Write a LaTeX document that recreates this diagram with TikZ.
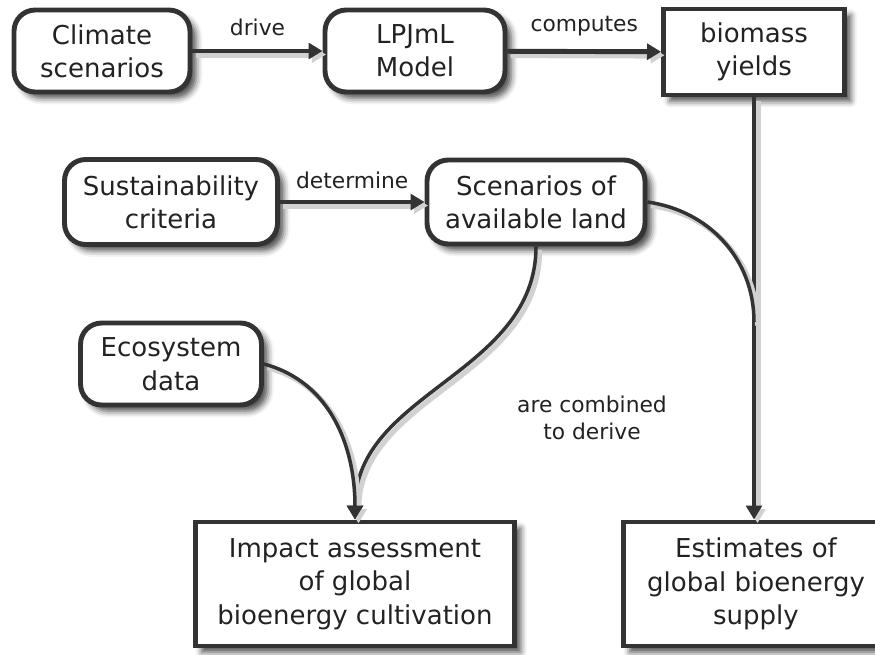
\documentclass[tikz,border=0pt]{standalone}
\usepackage{fontspec}
\setmainfont{DejaVu Sans}
\usetikzlibrary{arrows.meta,shadows.blur}
\definecolor{ink}{HTML}{333333}
\definecolor{txt}{HTML}{222222}
\tikzset{
  boxshadow/.style={blur shadow={shadow xshift=3.5pt, shadow yshift=-3.5pt, shadow blur radius=3.5pt, shadow opacity=70}},
  roundbox/.style={draw=ink, line width=2.8pt, fill=white, rounded corners=12pt, align=center, text=txt,
    font=\fontsize{14.8}{19}\selectfont, boxshadow},
  sharpbox/.style={roundbox, rounded corners=0pt},
  lbl/.style={text=txt, align=center, font=\fontsize{12.4}{15.2}\selectfont},
  lineshadow/.style={preaction={draw=black!18, line width=#1+1pt, transform canvas={xshift=2pt, yshift=-2pt}}},
}
\begin{document}
\begin{tikzpicture}[>={Triangle[length=8pt,width=9pt]}, x=0.02cm, y=-0.02cm]
\useasboundingbox (0,0) rectangle (875,654);
% boxes
\node[roundbox, minimum width=3.52cm, minimum height=1.64cm] (clim) at (102,51) {Climate\\scenarios};
\node[roundbox, minimum width=3.6cm, minimum height=1.64cm] (lpj) at (415,51) {LPJmL\\Model};
\node[sharpbox, minimum width=3.62cm, minimum height=1.72cm] (bio) at (754,52) {biomass\\yields};
\node[roundbox, minimum width=4.26cm, minimum height=1.7cm] (sust) at (171,202) {Sustainability\\criteria};
\node[roundbox, minimum width=4.36cm, minimum height=1.68cm] (scen) at (536,202) {Scenarios of\\available land};
\node[roundbox, minimum width=3.62cm, minimum height=1.64cm] (eco) at (171,364) {Ecosystem\\data};
\node[sharpbox, minimum width=6.38cm, minimum height=2.48cm] (imp) at (355,584) {Impact assessment\\of global\\bioenergy cultivation};
\node[sharpbox, minimum width=5.3cm, minimum height=2.48cm] (est) at (756,584) {Estimates of\\global bioenergy\\supply};
\node[lbl] (comb) at (592,418) {are combined\\to derive};
\coordinate (merge) at (bio.south |- 0,322);
% connectors
\draw[->, draw=ink, fill=ink, line width=2.8pt, lineshadow=2.8pt] (clim) -- node[lbl, above=4pt]{drive} (lpj);
\draw[->, draw=ink, fill=ink, line width=2.8pt, lineshadow=2.8pt] (lpj) -- node[lbl, above=4pt]{computes} (bio);
\draw[->, draw=ink, fill=ink, line width=2.8pt, lineshadow=2.8pt] (sust) -- node[lbl, above=3pt]{determine} (scen);
\draw[->, draw=ink, fill=ink, line width=2.4pt, lineshadow=2.4pt] (bio.south) -- (bio.south |- est.north);
\draw[draw=ink, line width=2pt, lineshadow=2pt] (scen.east) to[out=-8, in=90] (merge);
\draw[->, draw=ink, line width=2pt, lineshadow=2pt] (scen.south) to[out=-90, in=90] (imp.north);
\draw[->, draw=ink, line width=2pt, lineshadow=2pt] (eco.east) to[out=-15, in=90] (imp.north);

\end{tikzpicture}
\end{document}
